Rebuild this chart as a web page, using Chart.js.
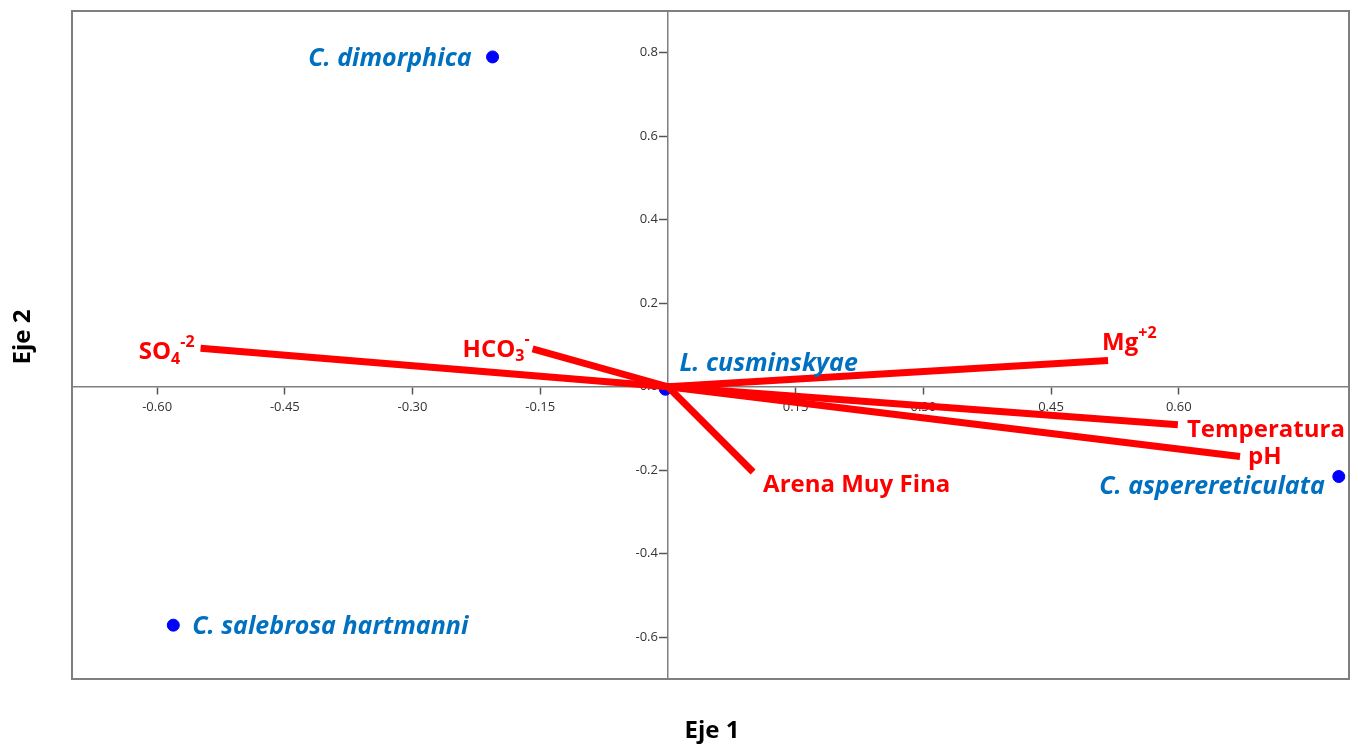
<!DOCTYPE html>
<html>
<head>
<meta charset="utf-8">
<script src="https://cdn.jsdelivr.net/npm/chart.js@4.4.1/dist/chart.umd.min.js"></script>
<style>
  html, body { margin: 0; padding: 0; background: #ffffff; }
  #wrap { width: 1358px; height: 747px; position: relative; }
</style>
</head>
<body>
<div id="wrap"><canvas id="c" width="1358" height="747"></canvas></div>
<script>
// ---- Data ----
const speciesNames = ["C. dimorphica", "C. salebrosa hartmanni", "C. asperereticulata", "L. cusminskyae"];
const speciesX = [-0.206, -0.581, 0.788, -0.003];
const speciesY = [0.790, -0.571, -0.215, -0.006];

// Variable vectors (from origin to endpoint)
const varNames = ["SO4-2", "HCO3-", "Mg+2", "Temperatura", "pH", "Arena Muy Fina"];
const varX = [-0.549, -0.159, 0.517, 0.599, 0.672, 0.100];
const varY = [0.092, 0.091, 0.063, -0.091, -0.167, -0.204];
// Rich text pieces for variable labels (sub/superscripts)
const varLabelParts = [
  [["SO", ""], ["4", "sub"], ["-2", "sup"]],
  [["HCO", ""], ["3", "sub"], ["-", "sup"]],
  [["Mg", ""], ["+2", "sup"]],
  [["Temperatura", ""]],
  [["pH", ""]],
  [["Arena Muy Fina", ""]]
];

const xTicks = [-0.60, -0.45, -0.30, -0.15, 0.15, 0.30, 0.45, 0.60];
const yTicks = [-0.6, -0.4, -0.2, 0.0, 0.2, 0.4, 0.6, 0.8];
const xTitle = "Eje 1";
const yTitle = "Eje 2";

// ---- Label layout (pixel offsets from anchor; style only) ----
const speciesLabelLayout = [
  { dx: -21, dy: 2, align: "right" },
  { dx: 19, dy: 2, align: "left" },
  { dx: -14, dy: 10, align: "right" },
  { dx: 14, dy: -25, align: "left" }
];
const varLabelLayout = [
  { dx: -6, dy: 4, align: "right" },
  { dx: -3, dy: 1, align: "right" },
  { dx: -6, dy: -17, align: "left" },
  { dx: 9, dy: 5, align: "left" },
  { dx: 8, dy: 1, align: "left" },
  { dx: 10, dy: 13, align: "left" }
];

const RED = "#ff0000";
const BLUE_TXT = "#0070c0";
const AXIS_GRAY = "#7f7f7f";
const TICK_TXT = "#333333";
const FAM = "'Open Sans', sans-serif";

const datasets = [];
varNames.forEach((n, i) => {
  datasets.push({
    type: "line",
    label: n,
    data: [{ x: 0, y: 0 }, { x: varX[i], y: varY[i] }],
    borderColor: RED,
    borderWidth: 7,
    pointRadius: 0,
    borderCapStyle: "butt",
    fill: false,
    tension: 0
  });
});
datasets.push({
  type: "scatter",
  label: "species",
  data: speciesX.map((x, i) => ({ x: x, y: speciesY[i] })),
  backgroundColor: "#0000ff",
  borderColor: "#0000ff",
  pointRadius: 6,
  pointHoverRadius: 6
});

function drawRich(ctx, parts, x, y, align, size) {
  const small = Math.round(size * 0.66);
  const widths = parts.map(([t, k]) => {
    ctx.font = "bold " + (k ? small : size) + "px " + FAM;
    return ctx.measureText(t).width;
  });
  const total = widths.reduce((a, b) => a + b, 0);
  let cx = align === "right" ? x - total : x;
  parts.forEach(([t, k], i) => {
    ctx.font = "bold " + (k ? small : size) + "px " + FAM;
    let oy = 0;
    if (k === "sub") oy = 7;
    if (k === "sup") oy = -10;
    ctx.textAlign = "left";
    ctx.textBaseline = "middle";
    ctx.fillText(t, cx, y + oy);
    cx += widths[i];
  });
}

const labelPlugin = {
  id: "labels",
  beforeDraw(chart) {
    const { ctx } = chart;
    ctx.save();
    ctx.fillStyle = "#ffffff";
    ctx.fillRect(0, 0, chart.width, chart.height);
    ctx.restore();
  },
  beforeDatasetsDraw(chart) {
    // y tick labels, left of the central vertical axis
    const { ctx } = chart;
    const xs = chart.scales.x, ys = chart.scales.y;
    const ax = xs.getPixelForValue(0);
    ctx.save();
    ctx.fillStyle = TICK_TXT;
    ctx.font = "13px " + FAM;
    ctx.textAlign = "right";
    ctx.textBaseline = "middle";
    yTicks.forEach(v => {
      ctx.fillText(v.toFixed(1), ax - 10, ys.getPixelForValue(v));
    });
    ctx.restore();
  },
  afterDatasetsDraw(chart) {
    const { ctx } = chart;
    const xs = chart.scales.x, ys = chart.scales.y;
    ctx.save();
    // species labels
    ctx.fillStyle = BLUE_TXT;
    ctx.font = "italic bold 25px " + FAM;
    ctx.textBaseline = "middle";
    speciesNames.forEach((n, i) => {
      const L = speciesLabelLayout[i];
      ctx.textAlign = L.align;
      ctx.fillText(n, xs.getPixelForValue(speciesX[i]) + L.dx, ys.getPixelForValue(speciesY[i]) + L.dy);
    });
    // variable labels
    ctx.fillStyle = RED;
    varNames.forEach((n, i) => {
      const L = varLabelLayout[i];
      drawRich(ctx, varLabelParts[i], xs.getPixelForValue(varX[i]) + L.dx, ys.getPixelForValue(varY[i]) + L.dy, L.align, 24);
    });
    ctx.restore();
  },
  afterDraw(chart) {
    const { ctx, chartArea: a } = chart;
    ctx.save();
    // frame
    ctx.strokeStyle = AXIS_GRAY;
    ctx.lineWidth = 2;
    ctx.strokeRect(a.left, a.top, a.right - a.left, a.bottom - a.top);
    // axis titles
    ctx.fillStyle = "#000000";
    ctx.font = "bold 24px " + FAM;
    ctx.textAlign = "center";
    ctx.textBaseline = "middle";
    ctx.fillText(xTitle, 712, 731);
    ctx.translate(23, 337);
    ctx.rotate(-Math.PI / 2);
    ctx.fillText(yTitle, 0, 0);
    ctx.restore();
  }
};

new Chart(document.getElementById("c"), {
  type: "scatter",
  data: { datasets: datasets },
  options: {
    responsive: false,
    animation: false,
    layout: { padding: { left: 72, top: 11, right: 9, bottom: 68 } },
    plugins: { legend: { display: false }, tooltip: { enabled: false }, title: { display: false } },
    scales: {
      x: {
        type: "linear",
        min: -0.70,
        max: 0.80,
        position: { y: 0 },
        afterBuildTicks: (s) => { s.ticks = xTicks.map(v => ({ value: v })); },
        ticks: {
          autoSkip: false,
          maxRotation: 0,
          color: TICK_TXT,
          font: { family: FAM, size: 13 },
          padding: 6,
          callback: (v) => Number(v).toFixed(2)
        },
        grid: { drawOnChartArea: false, drawTicks: true, tickLength: 7, tickColor: "#555555", tickWidth: 1.5 },
        border: { display: true, color: AXIS_GRAY, width: 1.5 }
      },
      y: {
        type: "linear",
        min: -0.70,
        max: 0.90,
        position: { x: 0 },
        afterBuildTicks: (s) => { s.ticks = yTicks.map(v => ({ value: v })); },
        ticks: { display: false },
        grid: { drawOnChartArea: false, drawTicks: true, tickLength: 8, tickColor: "#555555", tickWidth: 1.5 },
        border: { display: true, color: AXIS_GRAY, width: 1.5 }
      }
    }
  },
  plugins: [labelPlugin]
});
</script>
</body>
</html>
